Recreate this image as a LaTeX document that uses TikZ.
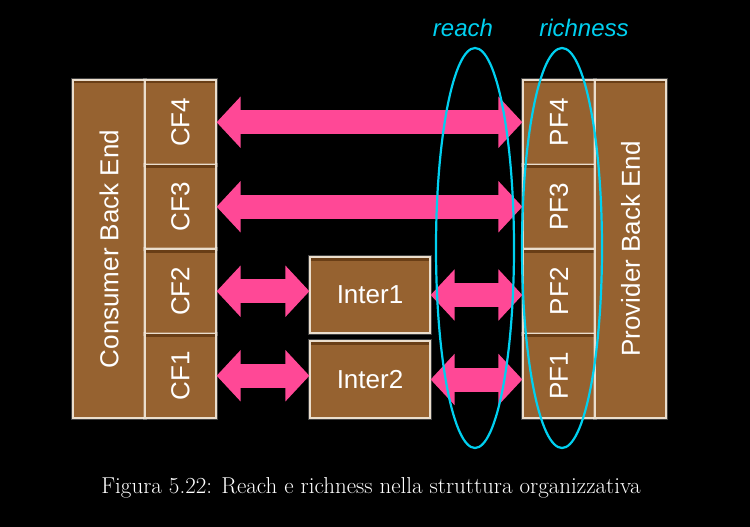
\documentclass[tikz,border=0pt]{standalone}
\usepackage{fontspec}
\newfontfamily\arial{Liberation Sans}
\usetikzlibrary{arrows.meta,shapes.geometric,calc}
\definecolor{boxbrown}{RGB}{150,98,48}
\definecolor{boxdark}{RGB}{105,62,22}
\definecolor{boxedge}{RGB}{235,222,205}
\definecolor{pinkarr}{RGB}{255,72,150}
\definecolor{cyanline}{RGB}{0,208,240}
\begin{document}
\begin{tikzpicture}[x=1pt,y=-1pt,
 box/.style={draw=boxedge, line width=1.2pt, fill=boxbrown, inner sep=0pt, text=white,
   font=\arial\fontsize{26}{30}\selectfont,
   preaction={draw=white,opacity=0.25,line width=4pt},
   path picture={\draw[boxdark,line width=7pt] (path picture bounding box.north west)--(path picture bounding box.north east);}},
 dbl/.style={draw=pinkarr, line width=24pt, line cap=butt,
   {Triangle[width=50pt,length=24pt]}-{Triangle[width=50pt,length=24pt]}},
 oval/.style={ellipse, draw=cyanline, line width=2.2pt, inner sep=0pt},
 lbl/.style={text=cyanline, font=\arial\itshape\fontsize{24}{28}\selectfont}
]
\fill[black] (0,0) rectangle (750,527);
\useasboundingbox (0,0) rectangle (750,527);
% consumer side
\node[box, minimum width=72pt, minimum height=338pt] (cbe) at (109,249) {\rotatebox{90}{Consumer Back End}};
\node[box, minimum width=71pt, minimum height=84.5pt] (cf4) at (180.5,122.25) {\rotatebox{90}{CF4}};
\node[box, minimum width=71pt, minimum height=84.5pt] (cf3) at (180.5,206.75) {\rotatebox{90}{CF3}};
\node[box, minimum width=71pt, minimum height=84.5pt] (cf2) at (180.5,291.25) {\rotatebox{90}{CF2}};
\node[box, minimum width=71pt, minimum height=84.5pt] (cf1) at (180.5,375.75) {\rotatebox{90}{CF1}};
% intermediaries
\node[box, minimum width=120pt, minimum height=76pt] (inter1) at (370,295) {Inter1};
\node[box, minimum width=120pt, minimum height=77pt] (inter2) at (370,379.5) {Inter2};
% provider side
\node[box, minimum width=72pt, minimum height=84.5pt] (pf4) at (559,122.25) {\rotatebox{90}{PF4}};
\node[box, minimum width=72pt, minimum height=84.5pt] (pf3) at (559,206.75) {\rotatebox{90}{PF3}};
\node[box, minimum width=72pt, minimum height=84.5pt] (pf2) at (559,291.25) {\rotatebox{90}{PF2}};
\node[box, minimum width=72pt, minimum height=84.5pt] (pf1) at (559,375.75) {\rotatebox{90}{PF1}};
\node[box, minimum width=71pt, minimum height=338pt] (pbe) at (630.5,249) {\rotatebox{90}{Provider Back End}};
% arrows
\draw[dbl] (cf4.east) -- (pf4.west);
\draw[dbl] (cf3.east) -- (pf3.west);
\draw[dbl] (cf2.east) -- (cf2.east -| inter1.west);
\draw[dbl] (inter1.east) -- (inter1.east -| pf2.west);
\draw[dbl] (cf1.east) -- (cf1.east -| inter2.west);
\draw[dbl] (inter2.east) -- (inter2.east -| pf1.west);
% ellipses
\node[oval, minimum width=78pt, minimum height=400pt] (reachE) at (475,248) {};
\node[oval, minimum width=80pt, minimum height=400pt] (richE) at (562,248) {};
\node[lbl] (reach) at (463,28) {reach};
\node[lbl] (rich) at (584,28) {richness};
% caption
\node[text=white, font=\fontsize{23}{27}\selectfont] (cap) at (371,488) {Figura 5.22: Reach e richness nella struttura organizzativa};
\end{tikzpicture}
\end{document}
